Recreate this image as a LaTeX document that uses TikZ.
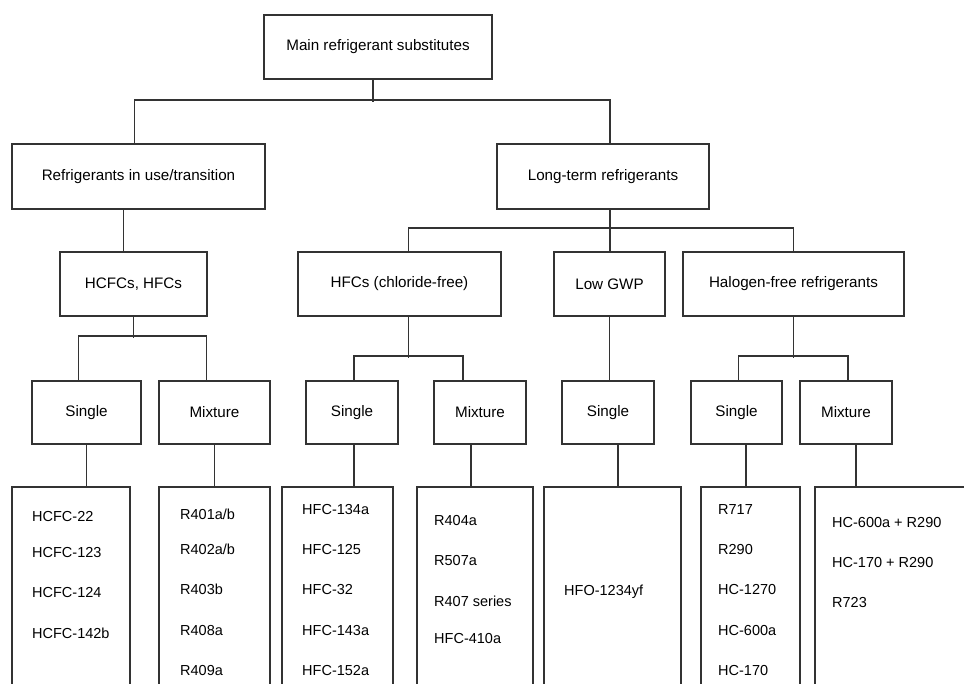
\documentclass[tikz,border=0pt]{standalone}
\usepackage{fontspec}
\setmainfont{Liberation Sans}
\definecolor{boxline}{HTML}{333333}

\begin{document}
\begin{tikzpicture}[x=1pt, y=-1pt]

\tikzset{drawbox/.style={draw=boxline, line width=1.5pt, rectangle, inner sep=0pt, font=\fontsize{15.2}{18}\selectfont}}
\tikzset{drawline/.style={draw=boxline, line width=1.5pt}}
\tikzset{listitem/.style={anchor=base west, inner sep=0pt, font=\fontsize{14.5}{17}\selectfont}}

\clip (0,0) rectangle (964,684);

% main box and the two groups
\node[drawbox, minimum width=228, minimum height=64] at (378, 47) (main) {Main refrigerant substitutes};
\node[drawbox, minimum width=253, minimum height=65] at (138.5, 176.5) (inuse) {Refrigerants in use/transition};
\node[drawbox, minimum width=212, minimum height=65] at (603, 176.5) (longterm) {Long-term refrigerants};

% refrigerant families
\node[drawbox, minimum width=147, minimum height=64] at (133.5, 284) (hcfcs) {HCFCs, HFCs};
\node[drawbox, minimum width=203, minimum height=64] at (399.5, 284) (hfcs) {HFCs (chloride-free)};
\node[drawbox, minimum width=111, minimum height=64] at (609.5, 284) (lowgwp) {Low GWP};
\node[drawbox, minimum width=221, minimum height=64] at (793.5, 284) (halogen) {Halogen-free refrigerants};

% single / mixture
\node[drawbox, minimum width=109, minimum height=63] at (86.5, 412.5) (hcsingle) {Single};
\node[drawbox, minimum width=111, minimum height=63] at (214.5, 412.5) (hcmix) {Mixture};
\node[drawbox, minimum width=92, minimum height=63] at (352, 412.5) (hfsingle) {Single};
\node[drawbox, minimum width=92, minimum height=63] at (480, 412.5) (hfmix) {Mixture};
\node[drawbox, minimum width=92, minimum height=63] at (608, 412.5) (lgsingle) {Single};
\node[drawbox, minimum width=91, minimum height=63] at (736.5, 412.5) (hlsingle) {Single};
\node[drawbox, minimum width=92, minimum height=63] at (846, 412.5) (hlmix) {Mixture};

% lists (run off the bottom)
\node[drawbox, minimum width=118, minimum height=233] at (71, 603.5) (hcfclist) {};
\node[drawbox, minimum width=111, minimum height=233] at (214.5, 603.5) (rfourlist) {};
\node[drawbox, minimum width=111, minimum height=233] at (337.5, 603.5) (hfclist) {};
\node[drawbox, minimum width=116, minimum height=233] at (475, 603.5) (hfmixlist) {};
\node[drawbox, minimum width=137, minimum height=233] at (612.5, 603.5) (hfolist) {};
\node[drawbox, minimum width=99, minimum height=233] at (750.5, 603.5) (hclist) {};
\node[drawbox, minimum width=180, minimum height=233] at (905, 603.5) (hcmixlist) {};

% list entries
\foreach \y/\t in {516/HCFC-22, 552/HCFC-123, 592/HCFC-124, 633/HCFC-142b}
  \node[listitem] (hcfc-\y) at (32, \y+5.5) {\t};
\foreach \y/\t in {514/{R401a/b}, 549/{R402a/b}, 589/R403b, 630/R408a, 670/R409a}
  \node[listitem] (rfour-\y) at (180, \y+5.5) {\t};
\foreach \y/\t in {509/HFC-134a, 549/HFC-125, 589/HFC-32, 630/HFC-143a, 670/HFC-152a}
  \node[listitem] (hfc-\y) at (302, \y+5.5) {\t};
\foreach \y/\t in {520/R404a, 560/R507a, 601/R407 series, 638/HFC-410a}
  \node[listitem] (hfmix-\y) at (434, \y+5.5) {\t};
\node[listitem] (hfo-590) at (564, 595.5) {HFO-1234yf};
\foreach \y/\t in {509/R717, 549/R290, 589/HC-1270, 630/HC-600a, 670/HC-170}
  \node[listitem] (hc-\y) at (718, \y+5.5) {\t};
\foreach \y/\t in {522/HC-600a + R290, 562/HC-170 + R290, 602/R723}
  \node[listitem] (hcmix-\y) at (832, \y+5.5) {\t};

% connections
\draw[drawline] ([xshift=-5]main.south) -- ++(0,22);
\draw[drawline] ([xshift=-4]inuse.north) -- ++(0,-43) -| ([xshift=7]longterm.north);
\draw[drawline] ([xshift=-15]inuse.south) -- ([xshift=-15]inuse.south |- hcfcs.north);
\draw[drawline] ([xshift=7]longterm.south) -- ([xshift=7]longterm.south |- lowgwp.north);
\draw[drawline] ([xshift=9]hfcs.north) -- ++(0,-23) -| (halogen.north);

\draw[drawline] (hcfcs.south) -- ++(0,21);
\draw[drawline] ([xshift=-8]hcsingle.north) -- ++(0,-44) -| ([xshift=-8]hcmix.north);
\draw[drawline] ([xshift=9]hfcs.south) -- ++(0,41);
\draw[drawline] ([xshift=2]hfsingle.north) -- ++(0,-24) -| ([xshift=-17]hfmix.north);
\draw[drawline] (lowgwp.south) -- (lowgwp.south |- lgsingle.north);
\draw[drawline] (halogen.south) -- ++(0,41);
\draw[drawline] ([xshift=2]hlsingle.north) -- ++(0,-24) -| ([xshift=2]hlmix.north);

\draw[drawline] (hcsingle.south) -- (hcsingle.south |- hcfclist.north);
\draw[drawline] (hcmix.south) -- (hcmix.south |- rfourlist.north);
\draw[drawline] ([xshift=2]hfsingle.south) -- ([xshift=2]hfsingle.south |- hfclist.north);
\draw[drawline] ([xshift=-9]hfmix.south) -- ([xshift=-9]hfmix.south |- hfmixlist.north);
\draw[drawline] ([xshift=10]lgsingle.south) -- ([xshift=10]lgsingle.south |- hfolist.north);
\draw[drawline] ([xshift=9.5]hlsingle.south) -- ([xshift=9.5]hlsingle.south |- hclist.north);
\draw[drawline] ([xshift=10]hlmix.south) -- ([xshift=10]hlmix.south |- hcmixlist.north);

\end{tikzpicture}
\end{document}
